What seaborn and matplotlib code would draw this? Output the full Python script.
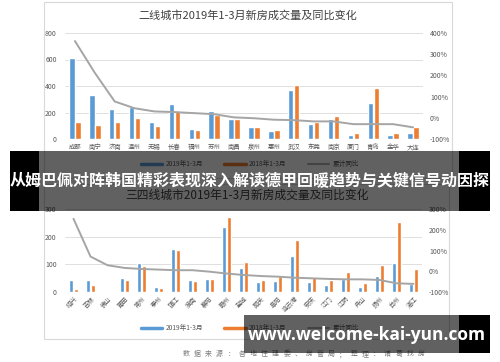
import numpy as np
import pandas as pd
import matplotlib
matplotlib.use("Agg")
import matplotlib.pyplot as plt
import seaborn as sns
from matplotlib.lines import Line2D
from matplotlib.patches import Rectangle
from matplotlib.ticker import FuncFormatter

# ---------------- data ----------------
top_title = "二线城市2019年1-3月新房成交量及同比变化"
top_cities = ["成都", "南宁", "济南", "温州", "无锡", "长春", "福州", "苏州", "南昌",
              "泉州", "惠州", "武汉", "东莞", "南京", "厦门", "青岛", "金华", "大连"]
top_2019 = [615, 335, 228, 238, 130, 263, 78, 213, 153, 88, 63, 368, 110, 153, 33, 273, 28, 48]
top_2018 = [132, 108, 128, 160, 100, 210, 65, 183, 148, 90, 68, 405, 128, 175, 45, 383, 43, 88]
top_yoy = [362, 212, 77, 45, 30, 27, 22, 17, 2, -2, -9, -11, -17, -17, -30, -30, -30, -45]
top_left_ticks = [0, 200, 400, 600, 800]
top_right_ticks = [-100, 0, 100, 200, 300, 400]

bot_title = "三四线城市2019年1-3月新房成交量及同比变化"
bot_cities = ["绍兴", "吉林", "佛山", "莆田", "常州", "泰州", "镇江", "淮南", "襄阳", "赣州", "盐城",
              "韶关", "阜阳", "连云港", "安庆", "江门", "江阴", "舟山", "扬州", "台州", "湛江"]
bot_2019 = [42, 42, 0, 51, 104, 17, 157, 42, 47, 236, 88, 35, 41, 130, 37, 27, 47, 18, 58, 105, 29]
bot_2018 = [12, 24, 0, 42, 93, 14, 153, 41, 47, 271, 107, 45, 57, 189, 55, 45, 73, 31, 98, 253, 84]
bot_yoy = [253, 71, 29, 16, 11, 8, 5, 5, -2, -11, -18, -23, -26, -31, -34, -37, -39, -39, -42, -58, -61]
bot_left_ticks = [0, 100, 200, 300]
bot_right_ticks = [-100, 0, 100, 200, 300]

series_names = ["2019年1-3月", "2018年1-3月", "累计同比"]
source_text = "数据来源：各地住建委、房管局；整理：诸葛找房"
banner_text = "从姆巴佩对阵韩国精彩表现深入解读德甲回暖趋势与关键信号动因探"
watermark_text = "www.welcome-kai-yun.com"

BLUE = "#5B9BD5"
ORANGE = "#ED7D31"
GRAY = "#A5A5A5"
TXT = "#595959"
GRID = "#D9D9D9"

sns.set_style("white")
plt.rcParams["font.family"] = ["Noto Sans CJK SC", "DejaVu Sans"]

W, H = 500, 362
fig = plt.figure(figsize=(W / 100, H / 100), dpi=100)


def rect(x0, y0, x1, y1):
    return [x0 / W, 1 - y1 / H, (x1 - x0) / W, (y1 - y0) / H]


# background layer (pixel coords)
bg = fig.add_axes([0, 0, 1, 1], zorder=0)
bg.set_xlim(0, W)
bg.set_ylim(H, 0)
bg.axis("off")
bg.add_patch(Rectangle((44, 2), 408, 176, fill=False, ec=GRID, lw=0.8))
bg.add_patch(Rectangle((44, 184), 405, 155, fill=False, ec=GRID, lw=0.8))
bg.text(248, 15, top_title, ha="center", va="center", fontsize=8, color="#404040")
bg.text(247, 195, bot_title, ha="center", va="center", fontsize=8.5, color="#404040")
for i, ch in enumerate(source_text):
    bg.text(186 + i * 11.2, 354, ch, ha="center", va="center", fontsize=5, color="#7F7F7F")


def draw_chart(box, cities, v19, v18, yoy, lticks, rticks, rotate):
    ax = fig.add_axes(rect(*box), zorder=1)
    ax.patch.set_alpha(0)
    n = len(cities)
    df = pd.DataFrame({
        "city": cities * 2,
        "period": [series_names[0]] * n + [series_names[1]] * n,
        "value": v19 + v18,
    })
    sns.barplot(data=df, x="city", y="value", hue="period", order=cities,
                hue_order=series_names[:2], palette=[BLUE, ORANGE], saturation=1,
                width=0.6, gap=0.1, errorbar=None, legend=False, ax=ax, zorder=2)
    ax.set_xlim(-0.5, n - 0.5)
    ax.set_ylim(lticks[0], lticks[-1])
    ax.set_yticks(lticks)
    ax.yaxis.grid(True, color=GRID, lw=0.6, zorder=0)
    ax.set_axisbelow(True)
    for s in ax.spines.values():
        s.set_visible(False)
    ax.set_xlabel("")
    ax.set_ylabel("")
    ax.tick_params(axis="y", length=0, labelsize=5, labelcolor=TXT, pad=6)
    if rotate:
        ax.tick_params(axis="x", length=0, labelsize=4.6, labelcolor=TXT, pad=2)
        for lab in ax.get_xticklabels():
            lab.set_rotation(45)
            lab.set_ha("right")
            lab.set_rotation_mode("anchor")
    else:
        ax.tick_params(axis="x", length=0, labelsize=4.6, labelcolor=TXT, pad=3)

    ax2 = ax.twinx()
    sns.lineplot(x=np.arange(n), y=yoy, ax=ax2, color=GRAY, lw=1.4, zorder=3)
    ax2.set_ylim(rticks[0], rticks[-1])
    ax2.set_yticks(rticks)
    ax2.yaxis.set_major_formatter(FuncFormatter(lambda v, p: f"{int(v)}%"))
    ax2.tick_params(axis="y", length=0, labelsize=5, labelcolor=TXT, pad=5)
    for s in ax2.spines.values():
        s.set_visible(False)
    ax2.set_ylabel("")
    ax2.set_xlim(-0.5, n - 0.5)
    return ax


draw_chart((65, 33, 423, 139), top_cities, top_2019, top_2018, top_yoy,
           top_left_ticks, top_right_ticks, rotate=False)
draw_chart((65, 209, 422, 292), bot_cities, bot_2019, bot_2018, bot_yoy,
           bot_left_ticks, bot_right_ticks, rotate=True)

handles = [Line2D([], [], color=BLUE, lw=2.5), Line2D([], [], color=ORANGE, lw=2.5),
           Line2D([], [], color=GRAY, lw=1.3)]
for yc in (164, 328):
    fig.legend(handles, series_names, loc="center", bbox_to_anchor=(250 / W, 1 - yc / H),
               ncol=3, frameon=False, fontsize=4.8, handlelength=3.2, handletextpad=0.5,
               columnspacing=3.2, labelcolor=TXT)

# overlay layer
ov = fig.add_axes([0, 0, 1, 1], zorder=10)
ov.set_xlim(0, W)
ov.set_ylim(H, 0)
ov.axis("off")
ov.patch.set_alpha(0)
# title banner
ov.add_patch(Rectangle((10, 151), 29, 60, color="black", lw=0))
ov.add_patch(Rectangle((459, 151), 31, 60, color="black", lw=0))
ov.add_patch(Rectangle((39, 151), 420, 60, color="black", alpha=0.62, lw=0))
ov.text(250, 181, banner_text, ha="center", va="center", fontsize=11.5,
        fontweight="bold", color="white")
# watermark band
ov.add_patch(Rectangle((244, 315), 215, 38, color="black", alpha=0.62, lw=0))
ov.add_patch(Rectangle((459, 315), 31, 38, color="black", lw=0))
ov.text(367, 335, watermark_text, ha="center", va="center", fontsize=12.5,
        fontweight="bold", color="white", family=["Open Sans", "DejaVu Sans"])

fig.savefig("out.png", dpi=100, facecolor="white")
